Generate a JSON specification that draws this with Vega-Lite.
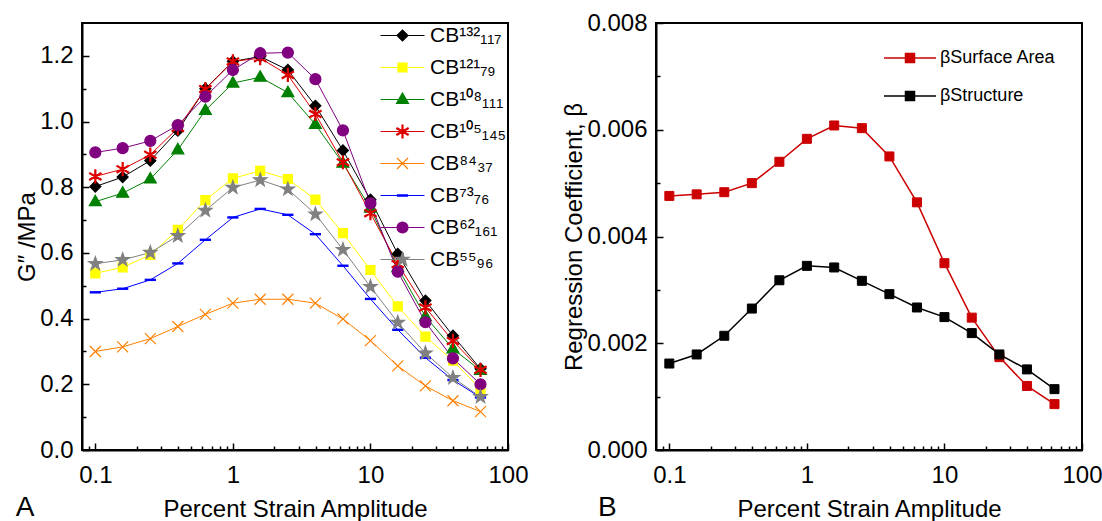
{
  "$schema": "https://vega.github.io/schema/vega-lite/v6.json",
  "padding": {"left": 14, "top": 10, "right": 0, "bottom": 0},
  "bounds": "flush",
  "spacing": 148,
  "resolve": {"scale": {"color": "independent", "fill": "independent", "stroke": "independent", "shape": "independent"}},
  "config": {
    "font": "Liberation Sans",
    "view": {"stroke": "black", "strokeWidth": 2},
    "axis": {"labelFontSize": 24, "titleFontSize": 24, "titleFontWeight": "normal", "labelColor": "black", "titleColor": "black", "domainColor": "black", "tickColor": "black", "domainWidth": 2, "tickWidth": 1.5, "grid": false, "labelFont": "Liberation Sans", "titleFont": "Liberation Sans", "labelFlush": false},
    "legend": {"labelFont": "Liberation Sans", "labelColor": "black", "padding": 0},
    "title": {"font": "Liberation Sans", "fontWeight": "normal", "color": "black"}
  },
  "datasets": {
    "a": [
      {"s": "CB¹³²₁₁₇", "x": 0.1, "y": 0.802}, {"s": "CB¹³²₁₁₇", "x": 0.158, "y": 0.831}, {"s": "CB¹³²₁₁₇", "x": 0.251, "y": 0.881}, {"s": "CB¹³²₁₁₇", "x": 0.398, "y": 0.972}, {"s": "CB¹³²₁₁₇", "x": 0.631, "y": 1.100}, {"s": "CB¹³²₁₁₇", "x": 1, "y": 1.183}, {"s": "CB¹³²₁₁₇", "x": 1.58, "y": 1.198}, {"s": "CB¹³²₁₁₇", "x": 2.51, "y": 1.157}, {"s": "CB¹³²₁₁₇", "x": 3.98, "y": 1.048}, {"s": "CB¹³²₁₁₇", "x": 6.31, "y": 0.912}, {"s": "CB¹³²₁₁₇", "x": 10, "y": 0.762}, {"s": "CB¹³²₁₁₇", "x": 15.8, "y": 0.597}, {"s": "CB¹³²₁₁₇", "x": 25.1, "y": 0.455}, {"s": "CB¹³²₁₁₇", "x": 39.8, "y": 0.348}, {"s": "CB¹³²₁₁₇", "x": 63.1, "y": 0.247},
      {"s": "CB¹²¹₇₉", "x": 0.1, "y": 0.538}, {"s": "CB¹²¹₇₉", "x": 0.158, "y": 0.556}, {"s": "CB¹²¹₇₉", "x": 0.251, "y": 0.594}, {"s": "CB¹²¹₇₉", "x": 0.398, "y": 0.670}, {"s": "CB¹²¹₇₉", "x": 0.631, "y": 0.761}, {"s": "CB¹²¹₇₉", "x": 1, "y": 0.827}, {"s": "CB¹²¹₇₉", "x": 1.58, "y": 0.850}, {"s": "CB¹²¹₇₉", "x": 2.51, "y": 0.825}, {"s": "CB¹²¹₇₉", "x": 3.98, "y": 0.762}, {"s": "CB¹²¹₇₉", "x": 6.31, "y": 0.660}, {"s": "CB¹²¹₇₉", "x": 10, "y": 0.548}, {"s": "CB¹²¹₇₉", "x": 15.8, "y": 0.437}, {"s": "CB¹²¹₇₉", "x": 25.1, "y": 0.345}, {"s": "CB¹²¹₇₉", "x": 39.8, "y": 0.272}, {"s": "CB¹²¹₇₉", "x": 63.1, "y": 0.186},
      {"s": "CB¹⁰⁸₁₁₁", "x": 0.1, "y": 0.756}, {"s": "CB¹⁰⁸₁₁₁", "x": 0.158, "y": 0.782}, {"s": "CB¹⁰⁸₁₁₁", "x": 0.251, "y": 0.825}, {"s": "CB¹⁰⁸₁₁₁", "x": 0.398, "y": 0.914}, {"s": "CB¹⁰⁸₁₁₁", "x": 0.631, "y": 1.034}, {"s": "CB¹⁰⁸₁₁₁", "x": 1, "y": 1.117}, {"s": "CB¹⁰⁸₁₁₁", "x": 1.58, "y": 1.135}, {"s": "CB¹⁰⁸₁₁₁", "x": 2.51, "y": 1.088}, {"s": "CB¹⁰⁸₁₁₁", "x": 3.98, "y": 0.991}, {"s": "CB¹⁰⁸₁₁₁", "x": 6.31, "y": 0.873}, {"s": "CB¹⁰⁸₁₁₁", "x": 10, "y": 0.736}, {"s": "CB¹⁰⁸₁₁₁", "x": 15.8, "y": 0.555}, {"s": "CB¹⁰⁸₁₁₁", "x": 25.1, "y": 0.406}, {"s": "CB¹⁰⁸₁₁₁", "x": 39.8, "y": 0.308}, {"s": "CB¹⁰⁸₁₁₁", "x": 63.1, "y": 0.242},
      {"s": "CB¹⁰⁵₁₄₅", "x": 0.1, "y": 0.833}, {"s": "CB¹⁰⁵₁₄₅", "x": 0.158, "y": 0.855}, {"s": "CB¹⁰⁵₁₄₅", "x": 0.251, "y": 0.899}, {"s": "CB¹⁰⁵₁₄₅", "x": 0.398, "y": 0.980}, {"s": "CB¹⁰⁵₁₄₅", "x": 0.631, "y": 1.099}, {"s": "CB¹⁰⁵₁₄₅", "x": 1, "y": 1.183}, {"s": "CB¹⁰⁵₁₄₅", "x": 1.58, "y": 1.193}, {"s": "CB¹⁰⁵₁₄₅", "x": 2.51, "y": 1.142}, {"s": "CB¹⁰⁵₁₄₅", "x": 3.98, "y": 1.023}, {"s": "CB¹⁰⁵₁₄₅", "x": 6.31, "y": 0.876}, {"s": "CB¹⁰⁵₁₄₅", "x": 10, "y": 0.721}, {"s": "CB¹⁰⁵₁₄₅", "x": 15.8, "y": 0.566}, {"s": "CB¹⁰⁵₁₄₅", "x": 25.1, "y": 0.434}, {"s": "CB¹⁰⁵₁₄₅", "x": 39.8, "y": 0.332}, {"s": "CB¹⁰⁵₁₄₅", "x": 63.1, "y": 0.244},
      {"s": "CB⁸⁴₃₇", "x": 0.1, "y": 0.300}, {"s": "CB⁸⁴₃₇", "x": 0.158, "y": 0.314}, {"s": "CB⁸⁴₃₇", "x": 0.251, "y": 0.339}, {"s": "CB⁸⁴₃₇", "x": 0.398, "y": 0.376}, {"s": "CB⁸⁴₃₇", "x": 0.631, "y": 0.413}, {"s": "CB⁸⁴₃₇", "x": 1, "y": 0.447}, {"s": "CB⁸⁴₃₇", "x": 1.58, "y": 0.459}, {"s": "CB⁸⁴₃₇", "x": 2.51, "y": 0.459}, {"s": "CB⁸⁴₃₇", "x": 3.98, "y": 0.447}, {"s": "CB⁸⁴₃₇", "x": 6.31, "y": 0.399}, {"s": "CB⁸⁴₃₇", "x": 10, "y": 0.333}, {"s": "CB⁸⁴₃₇", "x": 15.8, "y": 0.256}, {"s": "CB⁸⁴₃₇", "x": 25.1, "y": 0.195}, {"s": "CB⁸⁴₃₇", "x": 39.8, "y": 0.150}, {"s": "CB⁸⁴₃₇", "x": 63.1, "y": 0.117},
      {"s": "CB⁷³₇₆", "x": 0.1, "y": 0.480}, {"s": "CB⁷³₇₆", "x": 0.158, "y": 0.491}, {"s": "CB⁷³₇₆", "x": 0.251, "y": 0.518}, {"s": "CB⁷³₇₆", "x": 0.398, "y": 0.568}, {"s": "CB⁷³₇₆", "x": 0.631, "y": 0.640}, {"s": "CB⁷³₇₆", "x": 1, "y": 0.708}, {"s": "CB⁷³₇₆", "x": 1.58, "y": 0.734}, {"s": "CB⁷³₇₆", "x": 2.51, "y": 0.716}, {"s": "CB⁷³₇₆", "x": 3.98, "y": 0.657}, {"s": "CB⁷³₇₆", "x": 6.31, "y": 0.561}, {"s": "CB⁷³₇₆", "x": 10, "y": 0.460}, {"s": "CB⁷³₇₆", "x": 15.8, "y": 0.366}, {"s": "CB⁷³₇₆", "x": 25.1, "y": 0.281}, {"s": "CB⁷³₇₆", "x": 39.8, "y": 0.213}, {"s": "CB⁷³₇₆", "x": 63.1, "y": 0.160},
      {"s": "CB⁶²₁₆₁", "x": 0.1, "y": 0.906}, {"s": "CB⁶²₁₆₁", "x": 0.158, "y": 0.919}, {"s": "CB⁶²₁₆₁", "x": 0.251, "y": 0.941}, {"s": "CB⁶²₁₆₁", "x": 0.398, "y": 0.989}, {"s": "CB⁶²₁₆₁", "x": 0.631, "y": 1.076}, {"s": "CB⁶²₁₆₁", "x": 1, "y": 1.157}, {"s": "CB⁶²₁₆₁", "x": 1.58, "y": 1.208}, {"s": "CB⁶²₁₆₁", "x": 2.51, "y": 1.210}, {"s": "CB⁶²₁₆₁", "x": 3.98, "y": 1.129}, {"s": "CB⁶²₁₆₁", "x": 6.31, "y": 0.973}, {"s": "CB⁶²₁₆₁", "x": 10, "y": 0.751}, {"s": "CB⁶²₁₆₁", "x": 15.8, "y": 0.543}, {"s": "CB⁶²₁₆₁", "x": 25.1, "y": 0.389}, {"s": "CB⁶²₁₆₁", "x": 39.8, "y": 0.279}, {"s": "CB⁶²₁₆₁", "x": 63.1, "y": 0.200},
      {"s": "CB⁵⁵₉₆", "x": 0.1, "y": 0.567}, {"s": "CB⁵⁵₉₆", "x": 0.158, "y": 0.579}, {"s": "CB⁵⁵₉₆", "x": 0.251, "y": 0.601}, {"s": "CB⁵⁵₉₆", "x": 0.398, "y": 0.652}, {"s": "CB⁵⁵₉₆", "x": 0.631, "y": 0.729}, {"s": "CB⁵⁵₉₆", "x": 1, "y": 0.799}, {"s": "CB⁵⁵₉₆", "x": 1.58, "y": 0.822}, {"s": "CB⁵⁵₉₆", "x": 2.51, "y": 0.794}, {"s": "CB⁵⁵₉₆", "x": 3.98, "y": 0.718}, {"s": "CB⁵⁵₉₆", "x": 6.31, "y": 0.610}, {"s": "CB⁵⁵₉₆", "x": 10, "y": 0.497}, {"s": "CB⁵⁵₉₆", "x": 15.8, "y": 0.388}, {"s": "CB⁵⁵₉₆", "x": 25.1, "y": 0.295}, {"s": "CB⁵⁵₉₆", "x": 39.8, "y": 0.220}, {"s": "CB⁵⁵₉₆", "x": 63.1, "y": 0.162}
    ],
    "b": [
      {"s": "βSurface Area", "x": 0.1, "y": 0.00476}, {"s": "βSurface Area", "x": 0.158, "y": 0.00479}, {"s": "βSurface Area", "x": 0.251, "y": 0.00483}, {"s": "βSurface Area", "x": 0.398, "y": 0.00500}, {"s": "βSurface Area", "x": 0.631, "y": 0.00540}, {"s": "βSurface Area", "x": 1, "y": 0.00583}, {"s": "βSurface Area", "x": 1.58, "y": 0.00608}, {"s": "βSurface Area", "x": 2.51, "y": 0.00603}, {"s": "βSurface Area", "x": 3.98, "y": 0.00550}, {"s": "βSurface Area", "x": 6.31, "y": 0.00464}, {"s": "βSurface Area", "x": 10, "y": 0.00350}, {"s": "βSurface Area", "x": 15.8, "y": 0.00248}, {"s": "βSurface Area", "x": 25.1, "y": 0.00174}, {"s": "βSurface Area", "x": 39.8, "y": 0.00120}, {"s": "βSurface Area", "x": 63.1, "y": 0.00086},
      {"s": "βStructure", "x": 0.1, "y": 0.00162}, {"s": "βStructure", "x": 0.158, "y": 0.00179}, {"s": "βStructure", "x": 0.251, "y": 0.00214}, {"s": "βStructure", "x": 0.398, "y": 0.00265}, {"s": "βStructure", "x": 0.631, "y": 0.00318}, {"s": "βStructure", "x": 1, "y": 0.00345}, {"s": "βStructure", "x": 1.58, "y": 0.00342}, {"s": "βStructure", "x": 2.51, "y": 0.00317}, {"s": "βStructure", "x": 3.98, "y": 0.00292}, {"s": "βStructure", "x": 6.31, "y": 0.00267}, {"s": "βStructure", "x": 10, "y": 0.00249}, {"s": "βStructure", "x": 15.8, "y": 0.00219}, {"s": "βStructure", "x": 25.1, "y": 0.00179}, {"s": "βStructure", "x": 39.8, "y": 0.00151}, {"s": "βStructure", "x": 63.1, "y": 0.00114}
    ]
  },
  "hconcat": [
    {
      "width": 426,
      "height": 427,
      "title": {"text": "A", "orient": "bottom", "anchor": "start", "frame": "bounds", "fontSize": 28, "offset": -27},
      "resolve": {"axis": {"x": "independent", "y": "independent"}},
      "layer": [
        {
          "data": {"name": "a"},
          "mark": {"type": "line", "strokeWidth": 1},
          "encoding": {
            "x": {"field": "x", "type": "quantitative", "scale": {"type": "log", "domain": [0.08, 100], "nice": false}, "axis": {"orient": "bottom", "values": [0.09, 0.2, 0.3, 0.4, 0.5, 0.6, 0.7, 0.8, 0.9, 2, 3, 4, 5, 6, 7, 8, 9, 20, 30, 40, 50, 60, 70, 80, 90], "labels": false, "domain": false, "tickSize": -4, "title": null}},
            "y": {"field": "y", "type": "quantitative", "scale": {"domain": [0, 1.3], "nice": false, "zero": false}, "axis": {"orient": "left", "values": [0.1, 0.3, 0.5, 0.7, 0.9, 1.1], "labels": false, "domain": false, "tickSize": -4, "title": null}},
            "color": {"field": "s", "type": "nominal", "scale": {"domain": ["CB¹³²₁₁₇", "CB¹²¹₇₉", "CB¹⁰⁸₁₁₁", "CB¹⁰⁵₁₄₅", "CB⁸⁴₃₇", "CB⁷³₇₆", "CB⁶²₁₆₁", "CB⁵⁵₉₆"], "range": ["#000000", "#FFFF00", "#008000", "#DD0000", "#FF8000", "#0000FF", "#800080", "#808080"]},
              "legend": {"title": null, "orient": "top-right", "offset": 2, "labelFontSize": 21, "symbolSize": 4, "symbolStrokeWidth": 1.2, "labelOffset": 17, "rowPadding": 10,
                "encode": {"symbols": {"update": {
                  "fill": {"signal": "['#000000','#FFFF00','#008000','#DD0000','#FF8000','#0000FF','#800080','#808080'][indexof(['CB¹³²₁₁₇','CB¹²¹₇₉','CB¹⁰⁸₁₁₁','CB¹⁰⁵₁₄₅','CB⁸⁴₃₇','CB⁷³₇₆','CB⁶²₁₆₁','CB⁵⁵₉₆'], datum.value)]"},
                  "stroke": {"signal": "['#000000','#FFFF00','#008000','#DD0000','#FF8000','#0000FF','#800080','#808080'][indexof(['CB¹³²₁₁₇','CB¹²¹₇₉','CB¹⁰⁸₁₁₁','CB¹⁰⁵₁₄₅','CB⁸⁴₃₇','CB⁷³₇₆','CB⁶²₁₆₁','CB⁵⁵₉₆'], datum.value)]"},
                  "opacity": {"value": 1},
                  "strokeWidth": {"value": 1.2},
                  "shape": {"signal": "['M-22,0L22,0M-5.5,0L0,-5.5L5.5,0L0,5.5Z','M-22,0L22,0M-4.5,-4.5L4.5,-4.5L4.5,4.5L-4.5,4.5Z','M-22,0L22,0M0,-6.5L6,4L-6,4Z','M-22,0L22,0M-0.5,-6.5L0.5,-6.5L0.5,6.5L-0.5,6.5ZM5.38,-3.68L5.88,-2.82L-5.38,3.68L-5.88,2.82ZM-5.88,-2.82L-5.38,-3.68L5.88,2.82L5.38,3.68Z','M-22,0L22,0M-5.5,-5.5L5.5,5.5M-5.5,5.5L5.5,-5.5','M-22,0L22,0M-5,-0.6L5,-0.6L5,0.6L-5,0.6Z','M-22,0L22,0M-5.5,0A5.5,5.5,0,1,1,5.5,0A5.5,5.5,0,1,1,-5.5,0Z','M-22,0L22,0M0,-7L1.65,-2.27L6.66,-2.16L2.66,0.87L4.11,5.66L0,2.8L-4.11,5.66L-2.66,0.87L-6.66,-2.16L-1.65,-2.27Z'][indexof(['CB¹³²₁₁₇','CB¹²¹₇₉','CB¹⁰⁸₁₁₁','CB¹⁰⁵₁₄₅','CB⁸⁴₃₇','CB⁷³₇₆','CB⁶²₁₆₁','CB⁵⁵₉₆'], datum.value)]"}}}}}}
          }
        },
        {
          "data": {"name": "a"},
          "mark": {"type": "point", "filled": true, "opacity": 1, "size": 4, "strokeWidth": 1.2},
          "encoding": {
            "x": {"field": "x", "type": "quantitative", "axis": {"orient": "bottom", "values": [0.1, 1, 10, 100], "format": "~g", "tickSize": -7, "labelPadding": 20, "title": "Percent Strain Amplitude", "titlePadding": 10}},
            "y": {"field": "y", "type": "quantitative", "axis": {"orient": "left", "values": [0, 0.2, 0.4, 0.6, 0.8, 1.0, 1.2], "format": ".1f", "tickSize": -7, "labelPadding": 16, "title": "G″ /MPa", "titlePadding": 0}},
            "fill": {"field": "s", "type": "nominal", "scale": {"domain": ["CB¹³²₁₁₇", "CB¹²¹₇₉", "CB¹⁰⁸₁₁₁", "CB¹⁰⁵₁₄₅", "CB⁸⁴₃₇", "CB⁷³₇₆", "CB⁶²₁₆₁", "CB⁵⁵₉₆"], "range": ["#000000", "#FFFF00", "#008000", "#DD0000", "#FF8000", "#0000FF", "#800080", "#808080"]},
              "legend": {"title": null, "orient": "top-right", "offset": 2, "labelFontSize": 21, "symbolSize": 4, "symbolStrokeWidth": 1.2, "labelOffset": 17, "rowPadding": 10,
                "encode": {"symbols": {"update": {
                  "fill": {"signal": "['#000000','#FFFF00','#008000','#DD0000','#FF8000','#0000FF','#800080','#808080'][indexof(['CB¹³²₁₁₇','CB¹²¹₇₉','CB¹⁰⁸₁₁₁','CB¹⁰⁵₁₄₅','CB⁸⁴₃₇','CB⁷³₇₆','CB⁶²₁₆₁','CB⁵⁵₉₆'], datum.value)]"},
                  "stroke": {"signal": "['#000000','#FFFF00','#008000','#DD0000','#FF8000','#0000FF','#800080','#808080'][indexof(['CB¹³²₁₁₇','CB¹²¹₇₉','CB¹⁰⁸₁₁₁','CB¹⁰⁵₁₄₅','CB⁸⁴₃₇','CB⁷³₇₆','CB⁶²₁₆₁','CB⁵⁵₉₆'], datum.value)]"},
                  "opacity": {"value": 1},
                  "strokeWidth": {"value": 1.2},
                  "shape": {"signal": "['M-22,0L22,0M-5.5,0L0,-5.5L5.5,0L0,5.5Z','M-22,0L22,0M-4.5,-4.5L4.5,-4.5L4.5,4.5L-4.5,4.5Z','M-22,0L22,0M0,-6.5L6,4L-6,4Z','M-22,0L22,0M-0.5,-6.5L0.5,-6.5L0.5,6.5L-0.5,6.5ZM5.38,-3.68L5.88,-2.82L-5.38,3.68L-5.88,2.82ZM-5.88,-2.82L-5.38,-3.68L5.88,2.82L5.38,3.68Z','M-22,0L22,0M-5.5,-5.5L5.5,5.5M-5.5,5.5L5.5,-5.5','M-22,0L22,0M-5,-0.6L5,-0.6L5,0.6L-5,0.6Z','M-22,0L22,0M-5.5,0A5.5,5.5,0,1,1,5.5,0A5.5,5.5,0,1,1,-5.5,0Z','M-22,0L22,0M0,-7L1.65,-2.27L6.66,-2.16L2.66,0.87L4.11,5.66L0,2.8L-4.11,5.66L-2.66,0.87L-6.66,-2.16L-1.65,-2.27Z'][indexof(['CB¹³²₁₁₇','CB¹²¹₇₉','CB¹⁰⁸₁₁₁','CB¹⁰⁵₁₄₅','CB⁸⁴₃₇','CB⁷³₇₆','CB⁶²₁₆₁','CB⁵⁵₉₆'], datum.value)]"}}}}}},
            "stroke": {"field": "s", "type": "nominal", "scale": {"domain": ["CB¹³²₁₁₇", "CB¹²¹₇₉", "CB¹⁰⁸₁₁₁", "CB¹⁰⁵₁₄₅", "CB⁸⁴₃₇", "CB⁷³₇₆", "CB⁶²₁₆₁", "CB⁵⁵₉₆"], "range": ["#000000", "#FFFF00", "#008000", "#DD0000", "#FF8000", "#0000FF", "#800080", "#808080"]},
              "legend": {"title": null, "orient": "top-right", "offset": 2, "labelFontSize": 21, "symbolSize": 4, "symbolStrokeWidth": 1.2, "labelOffset": 17, "rowPadding": 10,
                "encode": {"symbols": {"update": {
                  "fill": {"signal": "['#000000','#FFFF00','#008000','#DD0000','#FF8000','#0000FF','#800080','#808080'][indexof(['CB¹³²₁₁₇','CB¹²¹₇₉','CB¹⁰⁸₁₁₁','CB¹⁰⁵₁₄₅','CB⁸⁴₃₇','CB⁷³₇₆','CB⁶²₁₆₁','CB⁵⁵₉₆'], datum.value)]"},
                  "stroke": {"signal": "['#000000','#FFFF00','#008000','#DD0000','#FF8000','#0000FF','#800080','#808080'][indexof(['CB¹³²₁₁₇','CB¹²¹₇₉','CB¹⁰⁸₁₁₁','CB¹⁰⁵₁₄₅','CB⁸⁴₃₇','CB⁷³₇₆','CB⁶²₁₆₁','CB⁵⁵₉₆'], datum.value)]"},
                  "opacity": {"value": 1},
                  "strokeWidth": {"value": 1.2},
                  "shape": {"signal": "['M-22,0L22,0M-5.5,0L0,-5.5L5.5,0L0,5.5Z','M-22,0L22,0M-4.5,-4.5L4.5,-4.5L4.5,4.5L-4.5,4.5Z','M-22,0L22,0M0,-6.5L6,4L-6,4Z','M-22,0L22,0M-0.5,-6.5L0.5,-6.5L0.5,6.5L-0.5,6.5ZM5.38,-3.68L5.88,-2.82L-5.38,3.68L-5.88,2.82ZM-5.88,-2.82L-5.38,-3.68L5.88,2.82L5.38,3.68Z','M-22,0L22,0M-5.5,-5.5L5.5,5.5M-5.5,5.5L5.5,-5.5','M-22,0L22,0M-5,-0.6L5,-0.6L5,0.6L-5,0.6Z','M-22,0L22,0M-5.5,0A5.5,5.5,0,1,1,5.5,0A5.5,5.5,0,1,1,-5.5,0Z','M-22,0L22,0M0,-7L1.65,-2.27L6.66,-2.16L2.66,0.87L4.11,5.66L0,2.8L-4.11,5.66L-2.66,0.87L-6.66,-2.16L-1.65,-2.27Z'][indexof(['CB¹³²₁₁₇','CB¹²¹₇₉','CB¹⁰⁸₁₁₁','CB¹⁰⁵₁₄₅','CB⁸⁴₃₇','CB⁷³₇₆','CB⁶²₁₆₁','CB⁵⁵₉₆'], datum.value)]"}}}}}},
            "shape": {"field": "s", "type": "nominal", "scale": {"domain": ["CB⁵⁵₉₆", "CB⁶²₁₆₁", "CB⁷³₇₆", "CB⁸⁴₃₇", "CB¹⁰⁵₁₄₅", "CB¹⁰⁸₁₁₁", "CB¹²¹₇₉", "CB¹³²₁₁₇"], "range": ["M0,-7L1.65,-2.27L6.66,-2.16L2.66,0.87L4.11,5.66L0,2.8L-4.11,5.66L-2.66,0.87L-6.66,-2.16L-1.65,-2.27Z", "M-5.5,0A5.5,5.5,0,1,1,5.5,0A5.5,5.5,0,1,1,-5.5,0Z", "M-5,-0.6L5,-0.6L5,0.6L-5,0.6Z", "M-5.5,-5.5L5.5,5.5M-5.5,5.5L5.5,-5.5", "M-0.5,-6.5L0.5,-6.5L0.5,6.5L-0.5,6.5ZM5.38,-3.68L5.88,-2.82L-5.38,3.68L-5.88,2.82ZM-5.88,-2.82L-5.38,-3.68L5.88,2.82L5.38,3.68Z", "M0,-6.5L6,4L-6,4Z", "M-4.5,-4.5L4.5,-4.5L4.5,4.5L-4.5,4.5Z", "M-5.5,0L0,-5.5L5.5,0L0,5.5Z"]}, "legend": null}
          }
        }
      ]
    },
    {
      "width": 426,
      "height": 427,
      "title": {"text": "B", "orient": "bottom", "anchor": "start", "frame": "bounds", "fontSize": 28, "offset": -27, "dx": 35},
      "resolve": {"axis": {"x": "independent", "y": "independent"}},
      "layer": [
        {
          "data": {"name": "b"},
          "mark": {"type": "line", "strokeWidth": 1.5},
          "encoding": {
            "x": {"field": "x", "type": "quantitative", "scale": {"type": "log", "domain": [0.08, 100], "nice": false}, "axis": {"orient": "bottom", "values": [0.09, 0.2, 0.3, 0.4, 0.5, 0.6, 0.7, 0.8, 0.9, 2, 3, 4, 5, 6, 7, 8, 9, 20, 30, 40, 50, 60, 70, 80, 90], "labels": false, "domain": false, "tickSize": -4, "title": null}},
            "y": {"field": "y", "type": "quantitative", "scale": {"domain": [0, 0.008], "nice": false, "zero": false}, "axis": {"orient": "left", "values": [0.001, 0.003, 0.005, 0.007], "labels": false, "domain": false, "tickSize": -4, "title": null}},
            "color": {"field": "s", "type": "nominal", "scale": {"domain": ["βSurface Area", "βStructure"], "range": ["#CC0000", "#000000"]},
              "legend": {"title": null, "orient": "top-right", "offset": 26, "labelFontSize": 18, "symbolSize": 4, "symbolStrokeWidth": 1.5, "labelOffset": 21, "rowPadding": 20,
                "encode": {"symbols": {"update": {
                  "fill": {"signal": "datum.value === 'βStructure' ? '#000000' : '#CC0000'"},
                  "stroke": {"signal": "datum.value === 'βStructure' ? '#000000' : '#CC0000'"},
                  "opacity": {"value": 1},
                  "strokeWidth": {"value": 1.5},
                  "shape": {"value": "M-26,0L26,0M-4.5,-4.5L4.5,-4.5L4.5,4.5L-4.5,4.5Z"}}}}}}
          }
        },
        {
          "data": {"name": "b"},
          "mark": {"type": "point", "filled": true, "opacity": 1, "size": 4, "strokeWidth": 1},
          "encoding": {
            "x": {"field": "x", "type": "quantitative", "axis": {"orient": "bottom", "values": [0.1, 1, 10, 100], "format": "~g", "tickSize": -7, "labelPadding": 20, "title": "Percent Strain Amplitude", "titlePadding": 10}},
            "y": {"field": "y", "type": "quantitative", "axis": {"orient": "left", "values": [0, 0.002, 0.004, 0.006, 0.008], "format": ".3f", "tickSize": -7, "labelPadding": 16, "title": "Regression Coefficient, β", "titlePadding": 0}},
            "fill": {"field": "s", "type": "nominal", "scale": {"domain": ["βSurface Area", "βStructure"], "range": ["#CC0000", "#000000"]},
              "legend": {"title": null, "orient": "top-right", "offset": 26, "labelFontSize": 18, "symbolSize": 4, "symbolStrokeWidth": 1.5, "labelOffset": 21, "rowPadding": 20,
                "encode": {"symbols": {"update": {
                  "fill": {"signal": "datum.value === 'βStructure' ? '#000000' : '#CC0000'"},
                  "stroke": {"signal": "datum.value === 'βStructure' ? '#000000' : '#CC0000'"},
                  "opacity": {"value": 1},
                  "strokeWidth": {"value": 1.5},
                  "shape": {"value": "M-26,0L26,0M-4.5,-4.5L4.5,-4.5L4.5,4.5L-4.5,4.5Z"}}}}}},
            "stroke": {"field": "s", "type": "nominal", "scale": {"domain": ["βSurface Area", "βStructure"], "range": ["#CC0000", "#000000"]},
              "legend": {"title": null, "orient": "top-right", "offset": 26, "labelFontSize": 18, "symbolSize": 4, "symbolStrokeWidth": 1.5, "labelOffset": 21, "rowPadding": 20,
                "encode": {"symbols": {"update": {
                  "fill": {"signal": "datum.value === 'βStructure' ? '#000000' : '#CC0000'"},
                  "stroke": {"signal": "datum.value === 'βStructure' ? '#000000' : '#CC0000'"},
                  "opacity": {"value": 1},
                  "strokeWidth": {"value": 1.5},
                  "shape": {"value": "M-26,0L26,0M-4.5,-4.5L4.5,-4.5L4.5,4.5L-4.5,4.5Z"}}}}}},
            "shape": {"value": "M-4.5,-4.5L4.5,-4.5L4.5,4.5L-4.5,4.5Z"}
          }
        }
      ]
    }
  ]
}
